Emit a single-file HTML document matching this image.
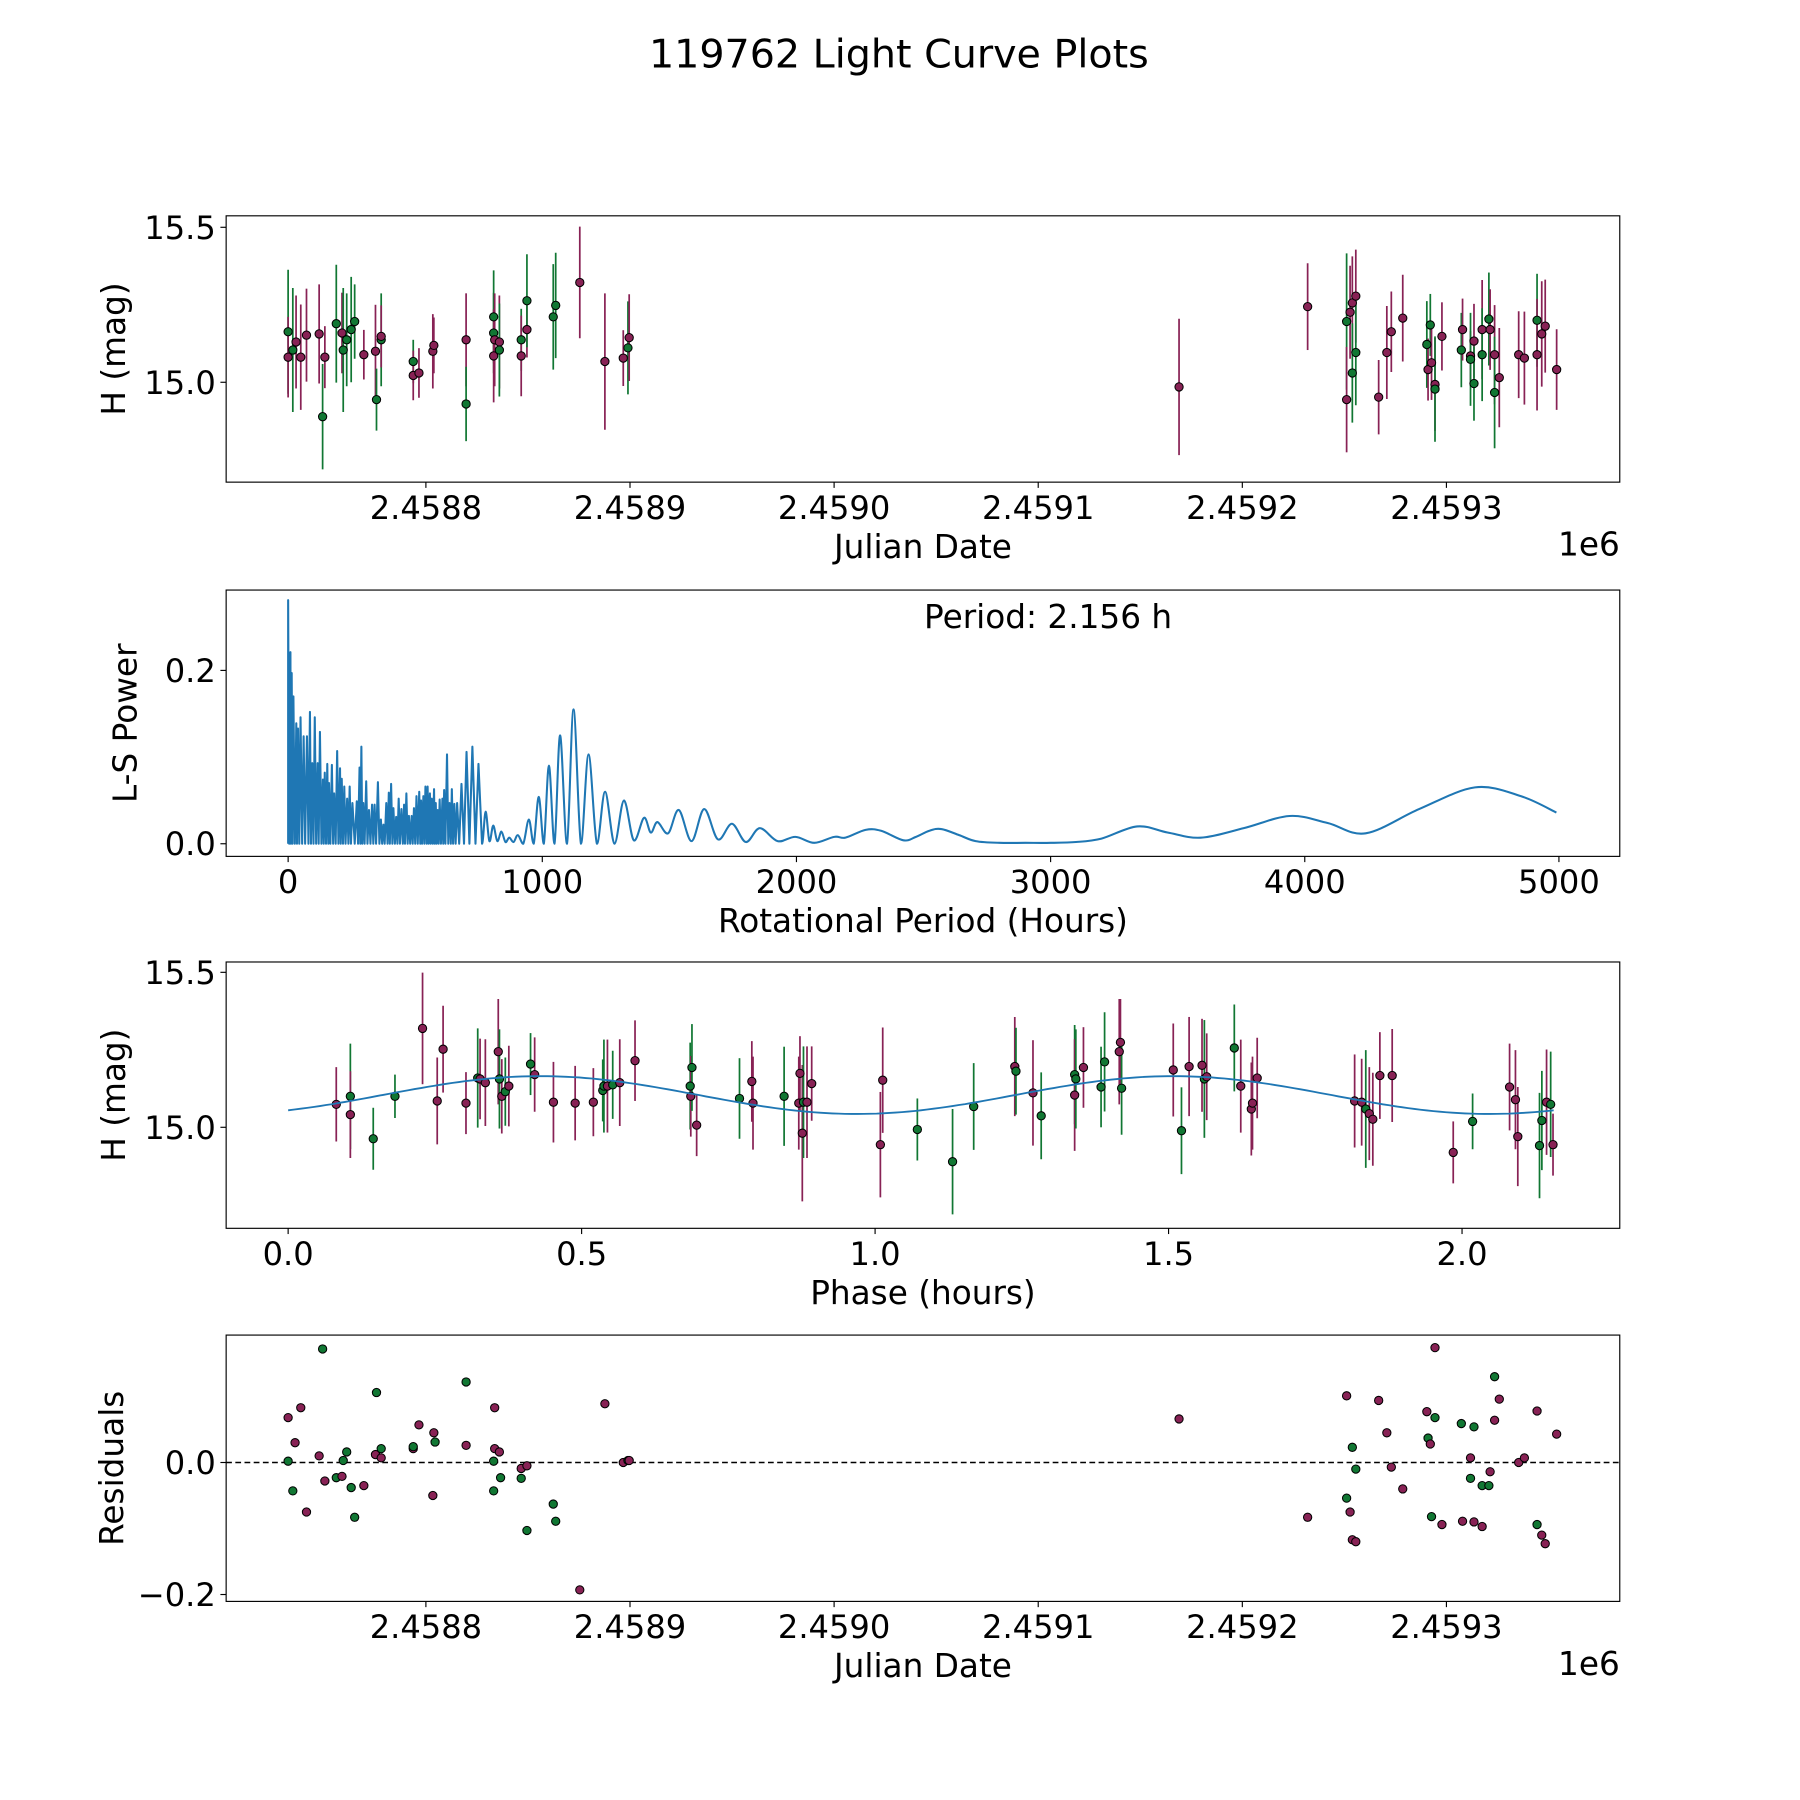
<!DOCTYPE html>
<html><head><meta charset="utf-8"><style>
html,body{margin:0;padding:0;background:#fff;}
svg{display:block;font-family:"DejaVu Sans","Liberation Sans",sans-serif;}
</style></head><body>
<svg id="fig" width="1800" height="1800" viewBox="0 0 1568 1568" xmlns="http://www.w3.org/2000/svg">
<rect x="0" y="0" width="1568" height="1568" fill="#fff"/>
<text x="783" y="59" font-size="34.5" text-anchor="middle">119762 Light Curve Plots</text>
</svg>
<script>
// ---------- Panel 1 data: JD offset (days from 2458800), H mag, error, band ----------
const lcJd = [-67.5,-67.5,-65.2,-63.6,-61.3,-58.5,-52.3,-50.6,-49.5,-43.9,-41.1,-40.5,-38.8,-36.6,-34.9,-30.4,-24.7,-24.2,-21.9,-21.9,-6.2,-6.2,-3.4,3.4,3.9,19.7,19.7,33.2,33.2,33.2,33.7,36.0,36.0,46.7,46.7,49.5,49.5,62.4,63.6,75.4,87.7,96.7,99.0,99.6,369.0,432.0,451.1,451.1,452.8,453.9,453.9,455.6,455.6,466.8,470.8,473.0,478.6,490.4,491.0,492.1,492.7,494.4,494.4,497.8,507.3,507.9,511.8,511.8,513.5,513.5,517.5,517.5,520.8,521.4,523.6,523.6,525.9,535.4,538.2,544.4,544.4,546.7,548.4,554.0];
const lcMag = [15.163,15.081,15.104,15.130,15.081,15.152,15.156,14.889,15.081,15.189,15.159,15.104,15.137,15.170,15.196,15.089,15.100,14.944,15.137,15.148,15.067,15.022,15.030,15.100,15.119,15.137,14.930,15.211,15.159,15.085,15.137,15.130,15.104,15.137,15.085,15.170,15.263,15.211,15.248,15.322,15.067,15.078,15.111,15.144,14.985,15.244,15.196,14.944,15.226,15.256,15.030,15.278,15.096,14.952,15.096,15.163,15.207,15.122,15.041,15.185,15.063,14.993,14.978,15.148,15.104,15.170,15.085,15.074,15.133,14.996,15.170,15.089,15.204,15.170,15.089,14.967,15.015,15.089,15.078,15.200,15.089,15.156,15.181,15.041];
const lcErr = [0.20,0.13,0.20,0.15,0.17,0.15,0.16,0.17,0.10,0.19,0.13,0.20,0.15,0.17,0.12,0.08,0.15,0.10,0.15,0.10,0.07,0.08,0.08,0.12,0.09,0.15,0.12,0.15,0.13,0.15,0.15,0.15,0.15,0.10,0.13,0.09,0.15,0.17,0.17,0.18,0.22,0.09,0.15,0.14,0.22,0.14,0.22,0.17,0.15,0.15,0.16,0.15,0.17,0.12,0.15,0.13,0.14,0.14,0.10,0.10,0.12,0.15,0.17,0.11,0.12,0.10,0.08,0.15,0.12,0.12,0.16,0.15,0.15,0.13,0.16,0.18,0.16,0.14,0.15,0.15,0.18,0.17,0.15,0.13];
const lcBand = ("gmgmmmmgmg"+"mggggmmggm"+"gmmmmmgggm"+"mmggmmgggm"+"mmgmmmgmmm"+"gmgmmmmgmg"+"mmgmgmmgmg"+"mggmmgmmmg"+"mmmm").split("");

// ---------- Panel 2 data: Lomb-Scargle periodogram ----------
const lsPeriod = [0,0,4,9,11,14,17,21,26,32,35,39,44,49,55,61,67,74,80,86,90,95,100,105,110,116,120,125,131,137,140,144,149,154,158,161,166,172,177,181,187,193,198,204,207,211,216,221,226,232,237,242,247,253,262,270,275,281,284,288,292,296,301,307,312,318,324,330,335,340,346,353,359,365,370,375,380,386,391,396,400,405,410,414,420,425,430,435,440,446,451,456,460,465,470,475,480,486,490,495,500,505,510,516,520,523,527,532,536,540,545,549,553,558,561,565,569,574,577,581,584,588,592,596,601,607,610,614,619,625,630,635,640,644,649,654,659,665,673,682,692,702,713,725,737,749,763,777,792,807,823,839,855,870,887,904,925,947,966,986,1006,1026,1048,1070,1097,1123,1152,1182,1215,1247,1284,1321,1360,1400,1427,1453,1495,1537,1587,1637,1691,1746,1801,1856,1926,1996,2070,2149,2193,2272,2333,2421,2470,2523,2570,2640,2705,2800,2900,3000,3100,3200,3340,3460,3590,3760,3940,4090,4240,4450,4670,4850,4990];
const lsPower = [0,0.281,0,0.221,0,0.197,0,0.170,0,0.139,0,0.133,0,0.146,0,0.124,0,0.124,0,0.152,0,0.093,0,0.146,0,0.093,0,0.129,0,0.074,0,0.082,0,0.092,0,0.070,0,0.091,0,0.058,0,0.107,0,0.087,0,0.075,0,0.066,0,0.052,0,0.066,0,0.047,0,0.049,0,0.088,0,0.112,0,0.047,0,0.072,0,0.039,0,0.045,0,0.045,0,0.071,0,0.028,0,0.022,0,0.047,0,0.059,0,0.069,0,0.041,0,0.031,0,0.052,0,0.040,0,0.045,0,0.058,0,0.032,0,0.032,0,0.041,0,0.055,0,0.060,0,0.050,0,0.055,0,0.066,0,0.066,0,0.058,0,0.052,0,0.063,0,0.047,0,0.039,0,0.051,0,0.052,0,0.062,0,0.103,0,0.047,0,0.063,0,0.046,0,0.047,0,0.069,0,0.106,0,0.112,0,0.092,0,0.037,0.003,0.021,0.003,0.014,0.002,0.007,0.002,0.010,0,0.028,0,0.054,0,0.090,0,0.125,0,0.155,0,0.103,0,0.060,0,0.050,0.004,0.030,0.013,0.025,0.012,0.039,0.003,0.040,0.005,0.023,0.002,0.018,0.003,0.008,0.001,0.008,0.007,0.016,0.015,0.004,0.008,0.015,0.017,0.010,0.003,0.001,0.001,0.001,0.002,0.006,0.020,0.013,0.007,0.018,0.032,0.024,0.012,0.040,0.065,0.055,0.036];

// ---------- Panel 3 data: phased light curve ----------
const phHours = [0.082,0.106,0.106,0.145,0.182,0.229,0.254,0.264,0.303,0.323,0.327,0.336,0.358,0.360,0.364,0.370,0.376,0.413,0.420,0.452,0.489,0.520,0.536,0.538,0.544,0.553,0.565,0.591,0.685,0.686,0.688,0.696,0.769,0.790,0.792,0.845,0.870,0.872,0.876,0.878,0.884,0.892,1.009,1.013,1.072,1.132,1.168,1.238,1.240,1.269,1.283,1.340,1.340,1.342,1.355,1.385,1.391,1.416,1.418,1.420,1.508,1.522,1.535,1.557,1.561,1.565,1.612,1.623,1.641,1.643,1.651,1.817,1.829,1.836,1.842,1.848,1.860,1.881,1.985,2.018,2.081,2.091,2.095,2.132,2.136,2.144,2.151,2.155];
const phMag = [15.074,15.100,15.041,14.963,15.100,15.319,15.085,15.252,15.078,15.159,15.156,15.144,15.244,15.156,15.100,15.115,15.133,15.204,15.170,15.081,15.078,15.081,15.119,15.133,15.133,15.137,15.144,15.215,15.133,15.100,15.193,15.007,15.093,15.148,15.078,15.100,15.078,15.174,14.981,15.081,15.081,15.141,14.944,15.152,14.993,14.889,15.067,15.196,15.181,15.111,15.037,15.170,15.104,15.156,15.193,15.130,15.211,15.244,15.274,15.126,15.185,14.989,15.196,15.200,15.156,15.163,15.256,15.133,15.059,15.078,15.159,15.085,15.081,15.059,15.044,15.026,15.167,15.167,14.919,15.019,15.130,15.089,14.970,14.941,15.022,15.081,15.074,14.944];
const phErr = [0.12,0.17,0.14,0.10,0.07,0.18,0.14,0.14,0.10,0.16,0.13,0.14,0.17,0.16,0.12,0.11,0.13,0.10,0.12,0.13,0.12,0.11,0.10,0.15,0.15,0.11,0.14,0.13,0.14,0.13,0.14,0.10,0.13,0.13,0.15,0.16,0.15,0.12,0.22,0.18,0.18,0.12,0.17,0.17,0.10,0.17,0.14,0.16,0.14,0.17,0.14,0.16,0.18,0.16,0.13,0.13,0.16,0.17,0.14,0.15,0.15,0.14,0.16,0.15,0.19,0.14,0.14,0.15,0.15,0.15,0.13,0.15,0.14,0.19,0.15,0.15,0.14,0.15,0.10,0.09,0.14,0.16,0.16,0.17,0.16,0.17,0.17,0.10];
const phBand = "mgmggmmmmgmmmgmgmgmmmmggmgmmgmgmgmmgmmmgmmmmgggmgmggmgmggmmgmgmmgmgmmmmmmgmmmmmgmmmggmgmg".split("");
const modelCoef = [15.104, 0.061, 0.43, 1.078]; // mean, amplitude, peak phase, half-period
const periodHours = [2.156];

// ---------- Panel 4 data: residuals ----------
const resJd = [-67.5,-67.5,-65.2,-64.1,-61.3,-58.5,-52.3,-50.6,-49.5,-43.9,-41.1,-40.5,-38.8,-36.6,-34.9,-30.4,-24.7,-24.2,-21.9,-21.9,-6.2,-6.2,-3.4,3.4,3.9,4.5,19.7,19.7,33.2,33.2,33.7,33.7,36.0,36.6,46.7,46.7,49.5,49.5,62.4,63.6,75.4,87.7,96.7,99.0,99.6,369.0,432.0,451.1,451.1,452.8,453.9,453.9,455.6,455.6,466.8,470.8,473.0,478.6,490.4,491.0,492.1,492.7,494.4,494.4,497.8,507.3,507.9,511.8,511.8,513.5,513.5,517.5,517.5,520.8,521.4,523.6,523.6,525.9,535.4,538.2,544.4,544.4,546.7,548.4,554.0];
const resVal = [0.068,0.002,-0.043,0.030,0.083,-0.075,0.010,0.172,-0.028,-0.023,-0.021,0.003,0.016,-0.038,-0.083,-0.035,0.012,0.106,0.007,0.021,0.021,0.024,0.057,-0.050,0.045,0.031,0.122,0.026,0.002,-0.043,0.083,0.021,0.016,-0.023,-0.009,-0.024,-0.005,-0.103,-0.063,-0.089,-0.193,0.089,0.0,0.003,0.003,0.066,-0.083,0.101,-0.054,-0.075,0.023,-0.117,-0.120,-0.010,0.094,0.045,-0.007,-0.040,0.077,0.037,0.028,-0.082,0.174,0.068,-0.094,0.059,-0.089,0.007,-0.024,0.054,-0.090,-0.097,-0.035,-0.035,-0.014,0.130,0.064,0.096,0.0,0.007,0.078,-0.094,-0.110,-0.123,0.043];
const resBand = ("mggmmmmgmg"+"mggggmmgmg"+"mgmmmggmgg"+"mmmgmgmggg"+"mmmgmmmmgm"+"gmmgmmmmmg"+"mgmgmgmmgg"+"mmggmgmmmm"+"mgmmm").split("");

const jdTicks = [0,100,200,300,400,500];
const jdTickLabels = ["2.4588","2.4589","2.4590","2.4591","2.4592","2.4593"];
const magTicks = [15.0,15.5];
const magTickLabels = ["15.0","15.5"];
const lsXTicks = [0,1000,2000,3000,4000,5000];
const lsXTickLabels = ["0","1000","2000","3000","4000","5000"];
const lsYTicks = [0,0.2];
const lsYTickLabels = ["0.0","0.2"];
const phXTicks = [0,0.5,1,1.5,2];
const phXTickLabels = ["0.0","0.5","1.0","1.5","2.0"];
const resYTicks = [-0.2,0.0];
const resYTickLabels = ["\u22120.2","0.0"];

const GREEN = "#117733", MAROON = "#882255";
const NS = "http://www.w3.org/2000/svg";
const svg = document.getElementById("fig");
const TICK_FS = 28, LABEL_FS = 28.5;
function el(tag, attrs, parent) {
  const e = document.createElementNS(NS, tag);
  for (const k in attrs) e.setAttribute(k, attrs[k]);
  (parent || svg).appendChild(e);
  return e;
}
function lin(d0, d1, r0, r1) { return v => r0 + (v - d0) * (r1 - r0) / (d1 - d0); }

function makePanel(name, L, T, R, B, xs, ys, xt, xtl, yt, ytl, xlabel, ylabel, ylabelX, offsetText) {
  const g = el("g", {});
  
  
  const plot = el("g", {}, g);
  
  
  xt.forEach((v, i) => {
    const x = xs(v);
    const tk = el("line", {x1: x, x2: x, y1: B, y2: B + 5, stroke: "#000", "stroke-width": 1}, g);
    
    
    const t = el("text", {x: x, y: B + 32, "font-size": TICK_FS, "text-anchor": "middle"}, g);
    t.textContent = xtl[i];
    
    
  });
  yt.forEach((v, i) => {
    const y = ys(v);
    const tk = el("line", {x1: L - 5, x2: L, y1: y, y2: y, stroke: "#000", "stroke-width": 1}, g);
    
    
    const t = el("text", {x: L - 9, y: y + 10, "font-size": TICK_FS, "text-anchor": "end"}, g);
    t.textContent = ytl[i];
    
    
  });
  const xl = el("text", {x: (L + R) / 2, y: B + 66, "font-size": LABEL_FS, "text-anchor": "middle"}, g);
  xl.textContent = xlabel;
  
  
  const cy = (T + B) / 2;
  const yl = el("text", {x: ylabelX, y: cy, "font-size": LABEL_FS, "text-anchor": "middle", transform: "rotate(-90 " + ylabelX + " " + cy + ")"}, g);
  yl.textContent = ylabel;
  
  
  if (offsetText) {
    const ot = el("text", {x: R, y: B + 64, "font-size": LABEL_FS, "text-anchor": "end"}, g);
    ot.textContent = offsetText;
    
    
  }
  return {g, plot, frame: () => {
    const f = el("rect", {x: L, y: T, width: R - L, height: B - T, fill: "none", stroke: "#000", "stroke-width": 1}, g);
    
    
  }};
}
function clipFor(id, L, T, R, B) {
  const c = el("clipPath", {id: id});
  el("rect", {x: L, y: T, width: R - L, height: B - T}, c);
}
function dot(parent, x, y, col, nm) {
  const c = el("circle", {cx: x, cy: y, r: 3.6, fill: col, stroke: "#000", "stroke-width": 0.9}, parent);
  
  
}

// ---------- Panel 1 ----------
{
  const L = 197, T = 188, R = 1411, B = 420;
  const xs = lin(0, 100, 371, 548.8), ys = lin(15.0, 15.5, 333, 198);
  const p = makePanel("light-curve-panel", L, T, R, B, xs, ys, jdTicks, jdTickLabels, magTicks, magTickLabels, "Julian Date", "H (mag)", 109, "1e6");
  lcJd.forEach((d, i) => {
    const col = lcBand[i] === "g" ? GREEN : MAROON;
    const e = lcErr[i] !== undefined ? lcErr[i] : 0.15;
    const ln = el("line", {x1: xs(d), x2: xs(d), y1: ys(lcMag[i] - e), y2: ys(lcMag[i] + e), stroke: col, "stroke-width": 1.5}, p.plot);
    
    
  });
  lcJd.forEach((d, i) => dot(p.plot, xs(d), ys(lcMag[i]), lcBand[i] === "g" ? GREEN : MAROON, 'observation-point'));
  p.frame();
}

// ---------- Panel 2 ----------
{
  const L = 197, T = 514, R = 1411, B = 746;
  const xs = lin(0, 1000, 251, 472.4), ys = lin(0, 0.2, 735, 584);
  clipFor("clip2", L, T, R, B);
  const p = makePanel("periodogram-panel", L, T, R, B, xs, ys, lsXTicks, lsXTickLabels, lsYTicks, lsYTickLabels, "Rotational Period (Hours)", "L-S Power", 119, null);
  p.plot.setAttribute("clip-path", "url(#clip2)");
  const px = lsPeriod.map(xs), py = lsPower.map(ys);
  let d = "M" + px[0].toFixed(1) + " " + py[0].toFixed(1);
  for (let i = 1; i < px.length; i++) {
    if (lsPeriod[i] < 770) {
      d += "L" + px[i].toFixed(1) + " " + py[i].toFixed(1);
    } else {
      const i0 = Math.max(i - 2, 0), i3 = Math.min(i + 1, px.length - 1);
      const c1x = px[i-1] + (px[i] - px[i0]) / 6, c1y = py[i-1] + (py[i] - py[i0]) / 6;
      const c2x = px[i] - (px[i3] - px[i-1]) / 6, c2y = py[i] - (py[i3] - py[i-1]) / 6;
      d += "C" + c1x.toFixed(1) + " " + Math.min(c1y, 735).toFixed(1) + " " + c2x.toFixed(1) + " " + Math.min(c2y, 735).toFixed(1) + " " + px[i].toFixed(1) + " " + py[i].toFixed(1);
    }
  }
  const path = el("path", {d: d, fill: "none", stroke: "#1f77b4", "stroke-width": 1.8, "stroke-linejoin": "round"}, p.plot);
  
  
  const pt = el("text", {x: 913, y: 547, "font-size": LABEL_FS, "text-anchor": "middle"}, p.g);
  pt.textContent = "Period: " + periodHours[0].toFixed(3) + " h";
  
  
  p.frame();
}

// ---------- Panel 3 ----------
{
  const L = 197, T = 838, R = 1411, B = 1070;
  const xs = lin(0, 1, 251, 762.3), ys = lin(15.0, 15.5, 982, 847);
  clipFor("clip3", L, T, R, B);
  const p = makePanel("phase-panel", L, T, R, B, xs, ys, phXTicks, phXTickLabels, magTicks, magTickLabels, "Phase (hours)", "H (mag)", 109, null);
  p.plot.setAttribute("clip-path", "url(#clip3)");
  phHours.forEach((h, i) => {
    const col = phBand[i] === "g" ? GREEN : MAROON;
    const e = phErr[i] !== undefined ? phErr[i] : 0.15;
    const ln = el("line", {x1: xs(h), x2: xs(h), y1: ys(phMag[i] - e), y2: ys(phMag[i] + e), stroke: col, "stroke-width": 1.5}, p.plot);
    
    
  });
  phHours.forEach((h, i) => dot(p.plot, xs(h), ys(phMag[i]), phBand[i] === "g" ? GREEN : MAROON, 'phased-point'));
  let d = "";
  for (let k = 0; k <= 200; k++) {
    const ph = periodHours[0] * k / 200;
    const m = modelCoef[0] + modelCoef[1] * Math.cos(2 * Math.PI * (ph - modelCoef[2]) / modelCoef[3]);
    d += (k ? "L" : "M") + xs(ph).toFixed(1) + " " + ys(m).toFixed(1);
  }
  const path = el("path", {d: d, fill: "none", stroke: "#1f77b4", "stroke-width": 1.6}, p.plot);
  
  
  p.frame();
}

// ---------- Panel 4 ----------
{
  const L = 197, T = 1163, R = 1411, B = 1395;
  const xs = lin(0, 100, 371, 548.8), ys = lin(0, -0.2, 1274, 1389);
  const p = makePanel("residuals-panel", L, T, R, B, xs, ys, jdTicks, jdTickLabels, resYTicks, resYTickLabels, "Julian Date", "Residuals", 107, "1e6");
  const zl = el("line", {x1: L, x2: R, y1: ys(0), y2: ys(0), stroke: "#000", "stroke-width": 1.3, "stroke-dasharray": "5 3"}, p.plot);
  
  
  resJd.forEach((d, i) => dot(p.plot, xs(d), ys(resVal[i]), resBand[i] === "g" ? GREEN : MAROON, 'residual-point'));
  p.frame();
}
</script>
</body></html>
